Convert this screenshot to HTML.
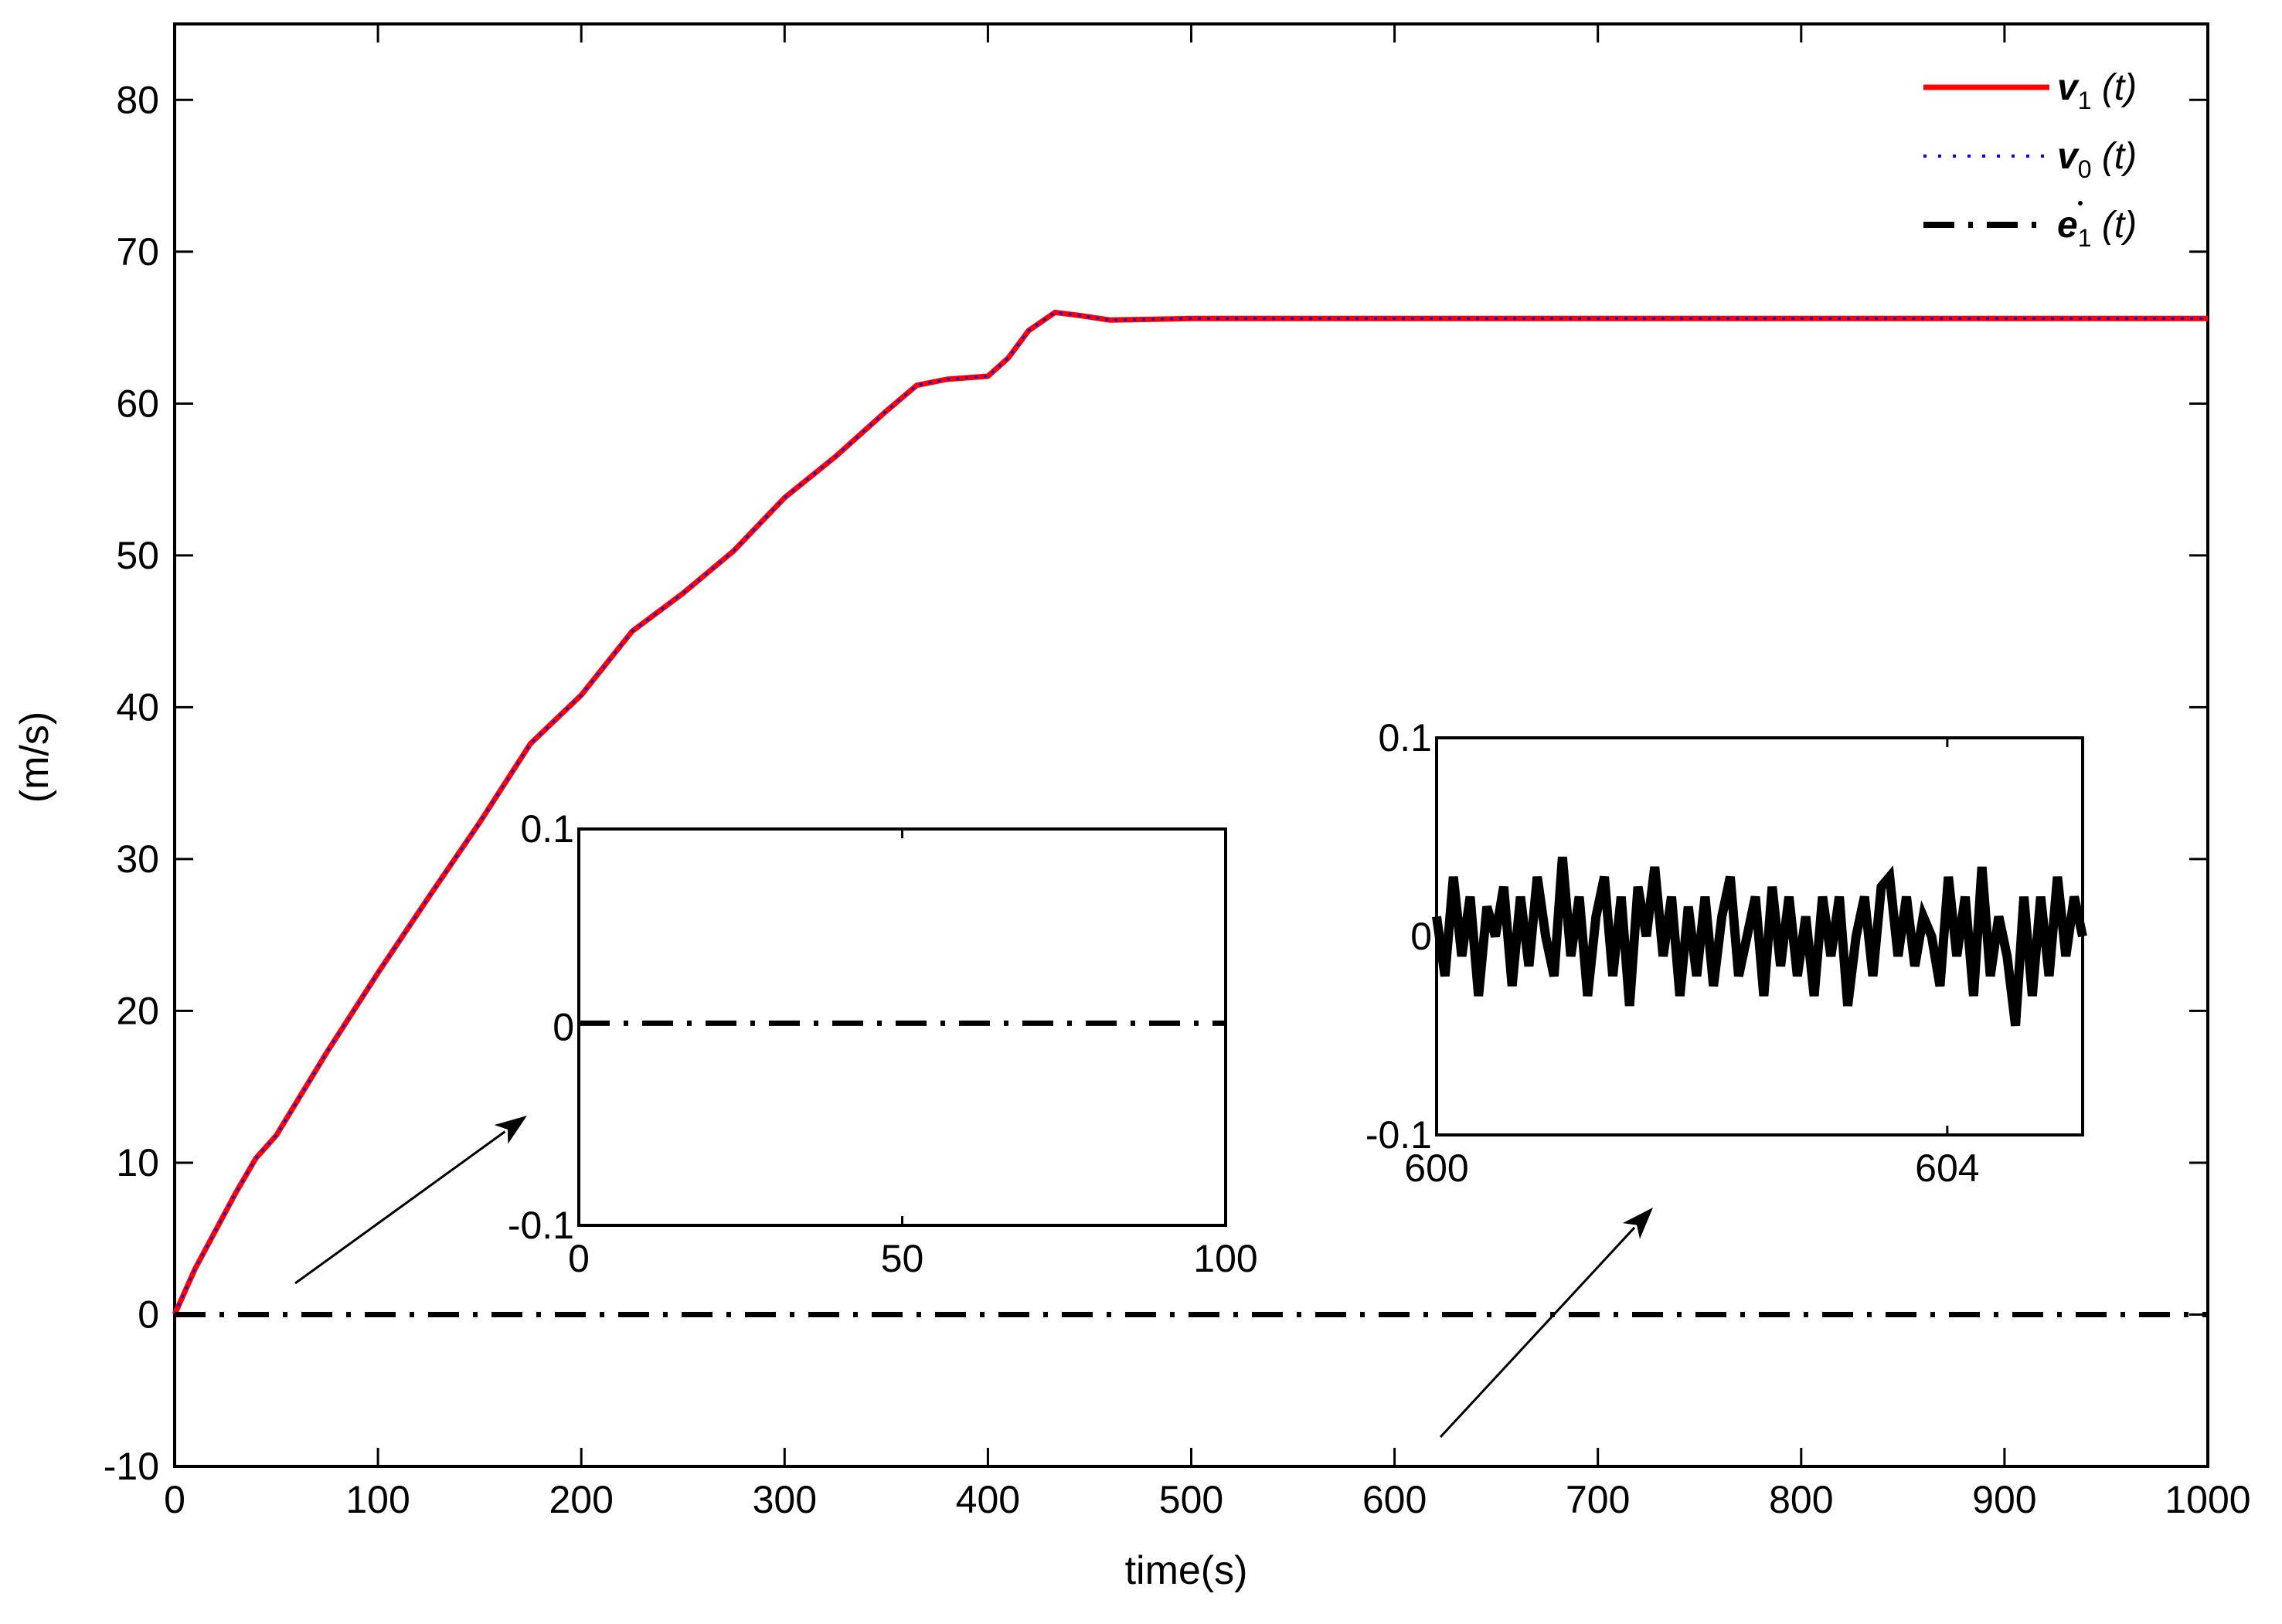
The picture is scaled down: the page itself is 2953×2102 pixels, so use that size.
<!DOCTYPE html>
<html><head><meta charset="utf-8"><style>
html,body{margin:0;padding:0;background:#fff}
svg{display:block}
text{font-family:"Liberation Sans",sans-serif;fill:#000}
</style></head><body>
<svg id="c" width="2953" height="2102" viewBox="0 0 2953 2102" xmlns="http://www.w3.org/2000/svg">
<rect width="2953" height="2102" fill="#fff"/>
</svg>
<script>
const tMain=[0,10,20,30,40,50,75,100,125,150,175,200,225,250,275,300,325,350,365,380,400,410,420,433,445,460,500,600,700,800,900,1000];
const vMain=[0,3,5.5,8,10.3,11.8,17.3,22.5,27.5,32.4,37.6,40.8,45,47.5,50.3,53.8,56.5,59.5,61.2,61.6,61.8,63,64.8,66,65.8,65.5,65.6,65.6,65.6,65.6,65.6,65.6];
const xTicks=[0,100,200,300,400,500,600,700,800,900,1000];
const yTicks=[-10,0,10,20,30,40,50,60,70,80];
const inset1XTicks=[0,50,100];
const inset2XTicks=[600,604];
const insetYTicks=[-0.1,0,0.1];
const noiseVals=[0.01,-0.02,0.03,-0.01,0.02,-0.03,0.015,0,0.025,-0.025,0.02,-0.015,0.03,0.0,-0.02,0.04,-0.01,0.02,-0.03,0.01,0.03,-0.02,0.02,-0.035,0.025,0.0,0.035,-0.01,0.02,-0.03,0.015,-0.02,0.02,-0.025,0.01,0.03,-0.02,0.0,0.02,-0.03,0.025,-0.015,0.02,-0.02,0.01,-0.03,0.02,-0.01,0.02,-0.035,0.0,0.02,-0.02,0.025,0.03,-0.01,0.02,-0.015,0.01,0.0,-0.025,0.03,-0.01,0.02,-0.03,0.035,-0.02,0.01,-0.01,-0.045,0.02,-0.03,0.02,-0.02,0.03,-0.01,0.02,0.0];
const NS="http://www.w3.org/2000/svg";
const svg=document.getElementById('c');
function el(tag,attrs,parent){const e=document.createElementNS(NS,tag);for(const k in attrs)e.setAttribute(k,attrs[k]);(parent||svg).appendChild(e);return e;}
const L=226,R=2857,T=31,B=1898;
const X=t=>L+(t-0)/1000*(R-L);
const Y=v=>B-(v+10)/95*(B-T);
let f=el('rect',{x:L,y:T,width:R-L,height:B-T,fill:'none',stroke:'#000','stroke-width':4});


xTicks.forEach(t=>{
 el('line',{x1:X(t),x2:X(t),y1:B,y2:B-24,stroke:'#000','stroke-width':3});
 el('line',{x1:X(t),x2:X(t),y1:T,y2:T+24,stroke:'#000','stroke-width':3});
 const tx=el('text',{x:X(t),y:B+60,'font-size':50,'text-anchor':'middle'});tx.textContent=t;
 
 
});
yTicks.forEach(v=>{
 el('line',{x1:L,x2:L+24,y1:Y(v),y2:Y(v),stroke:'#000','stroke-width':3});
 el('line',{x1:R,x2:R-24,y1:Y(v),y2:Y(v),stroke:'#000','stroke-width':3});
 const tx=el('text',{x:L-20,y:Y(v)+17,'font-size':50,'text-anchor':'end'});tx.textContent=v;
 
 
});
let xl=el('text',{x:1535,y:2050,'font-size':52,'text-anchor':'middle','font-family':'Liberation Serif'});xl.textContent='time(s)';


let yl=el('text',{x:0,y:0,'font-size':52,'text-anchor':'middle','font-family':'Liberation Serif',transform:'translate(62,980) rotate(-90)'});yl.textContent='(m/s)';


const pts=tMain.map((t,i)=>X(t)+','+Y(vMain[i])).join(' ');
let v1=el('polyline',{points:pts,fill:'none',stroke:'#f00','stroke-width':7});


let v0=el('polyline',{points:pts,fill:'none',stroke:'#00f','stroke-width':3,'stroke-dasharray':'4 8'});


let e1=el('line',{x1:X(0),x2:X(1000),y1:Y(0),y2:Y(0),stroke:'#000','stroke-width':7,'stroke-dasharray':'40 18 6 18'});


const lg=[['#f00',7,'none','v','1'],['#00f',4,'4 15','v','0'],['#000',8,'40 18 6 18','e','1']];
lg.forEach((d,i)=>{
 const y=113+i*89;
 const ln=el('line',{x1:2489,x2:2652,y1:y,y2:y,stroke:d[0],'stroke-width':d[1],'stroke-dasharray':d[2]});
 
 
 const tx=el('text',{x:2662,y:y+16,'font-size':48,'font-family':'Liberation Serif','font-style':'italic','font-weight':'bold'});
 
 
 tx.innerHTML=d[3]+'<tspan font-size="32" dy="12" font-style="normal" font-weight="normal">'+d[4]+'</tspan><tspan dy="-12" font-weight="normal"> (t)</tspan>';
 if(d[3]==='e'){el('circle',{cx:2692,cy:y-28,r:3,fill:'#000'});}
});
function inset(x0,x1,y0,y1,xmin,xmax,xt,name,series){
 const g=el('g',{});
 
 
 el('rect',{x:x0,y:y0,width:x1-x0,height:y1-y0,fill:'#fff',stroke:'#000','stroke-width':4},g);
 const ix=t=>x0+(t-xmin)/(xmax-xmin)*(x1-x0);
 const iy=v=>y1-(v+0.1)/0.2*(y1-y0);
 xt.forEach(t=>{
  el('line',{x1:ix(t),x2:ix(t),y1:y1,y2:y1-12,stroke:'#000','stroke-width':3},g);
  el('line',{x1:ix(t),x2:ix(t),y1:y0,y2:y0+12,stroke:'#000','stroke-width':3},g);
  const tx=el('text',{x:ix(t),y:y1+60,'font-size':50,'text-anchor':'middle'},g);tx.textContent=t;
 });
 insetYTicks.forEach(v=>{
  const tx=el('text',{x:x0-6,y:iy(v)+17,'font-size':50,'text-anchor':'end'},g);tx.textContent=v;
 });
 series(ix,iy,g);
}
inset(749,1586,1073,1586,0,100,inset1XTicks,'inset-zoom-start',(ix,iy,g)=>{
 el('line',{x1:ix(0),x2:ix(100),y1:iy(0.002),y2:iy(0.002),stroke:'#000','stroke-width':7,'stroke-dasharray':'40 18 6 18'},g);
});
inset(1859,2695,955,1469,600,605.06,inset2XTicks,'inset-zoom-steady',(ix,iy,g)=>{
 const n=noiseVals.length;
 const p=noiseVals.map((v,i)=>ix(600+i*5.06/(n-1))+','+iy(v)).join(' ');
 el('polyline',{points:p,fill:'none',stroke:'#000','stroke-width':12,'stroke-linejoin':'miter'},g);
});
function arrow(x1,y1,x2,y2,name){
 const a=Math.atan2(y2-y1,x2-x1),h=44,w=0.35;
 const g=el('g',{});
 
 
 el('line',{x1,y1,x2:x2-h*0.8*Math.cos(a),y2:y2-h*0.8*Math.sin(a),stroke:'#000','stroke-width':3},g);
 el('polygon',{points:`${x2},${y2} ${x2-h*Math.cos(a-w)},${y2-h*Math.sin(a-w)} ${x2-h*0.7*Math.cos(a)},${y2-h*0.7*Math.sin(a)} ${x2-h*Math.cos(a+w)},${y2-h*Math.sin(a+w)}`,fill:'#000'},g);
}
arrow(382,1661,682,1444,'arrow-to-inset-1');
arrow(1864,1860,2139,1563,'arrow-to-inset-2');
</script>
</body></html>
